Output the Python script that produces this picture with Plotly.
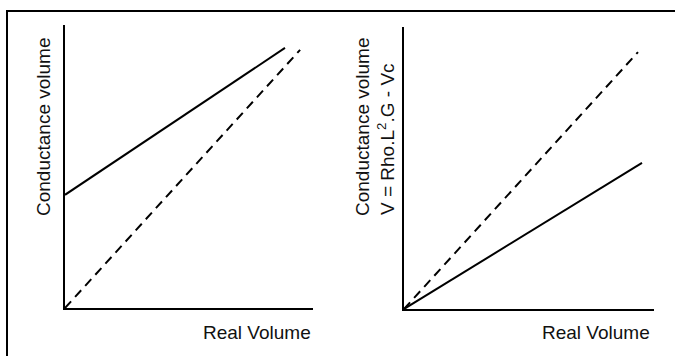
import plotly.graph_objects as go

W, H = 675, 356

# Left panel: conductance volume vs real volume
left_x = [0, 8.87]
left_solid = [4.0, 9.19]
left_dash_x = [0, 9.48]
left_dash = [0, 9.12]

# Right panel: corrected conductance volume
right_dash_x = [0, 9.36]
right_dash = [0, 9.11]
right_solid_x = [0, 9.52]
right_solid = [0, 5.18]

axis_range = [0, 10]
x_title = "Real Volume"
y_title_left = "Conductance volume"
y_title_right = ["Conductance volume", "V = Rho.L<sup>2</sup>.G - Vc"]

FONT = "Liberation Sans, Arial, sans-serif"

fig = go.Figure()
fig.add_trace(go.Scatter(x=left_x, y=left_solid, mode="lines",
                         line=dict(color="black", width=2), xaxis="x", yaxis="y"))
fig.add_trace(go.Scatter(x=left_dash_x, y=left_dash, mode="lines",
                         line=dict(color="black", width=2, dash="9px,6px"), xaxis="x", yaxis="y"))
fig.add_trace(go.Scatter(x=right_dash_x, y=right_dash, mode="lines",
                         line=dict(color="black", width=2, dash="9px,6px"), xaxis="x2", yaxis="y2"))
fig.add_trace(go.Scatter(x=right_solid_x, y=right_solid, mode="lines",
                         line=dict(color="black", width=2), xaxis="x2", yaxis="y2"))

ax = dict(range=axis_range, showline=True, linecolor="black", linewidth=2,
          showgrid=False, zeroline=False, showticklabels=False, ticks="", fixedrange=True)

def px(v):
    return v / W

def py(v):
    return 1 - v / H

fig.update_layout(
    width=W, height=H,
    margin=dict(l=0, r=0, t=0, b=0),
    paper_bgcolor="white", plot_bgcolor="white",
    showlegend=False,
    xaxis=dict(ax, domain=[px(65), px(313)], anchor="y"),
    yaxis=dict(ax, domain=[py(308), py(25)], anchor="x"),
    xaxis2=dict(ax, domain=[px(404), px(654)], anchor="y2"),
    yaxis2=dict(ax, domain=[py(309), py(27)], anchor="x2"),
    font=dict(family=FONT, color="black", size=19),
)

# outer frame (left and top edges)
fig.add_shape(type="line", xref="paper", yref="paper",
              x0=px(7), y0=0, x1=px(7), y1=py(11), line=dict(color="black", width=2))
fig.add_shape(type="line", xref="paper", yref="paper",
              x0=px(6), y0=py(11), x1=1, y1=py(11), line=dict(color="black", width=2))

ann = dict(xref="paper", yref="paper", showarrow=False, xanchor="center", yanchor="middle",
           font=dict(family=FONT, size=19, color="#111"))
fig.add_annotation(ann, text=x_title, x=px(257), y=py(332))
fig.add_annotation(ann, text=x_title, x=px(596), y=py(332))
fig.add_annotation(ann, text=y_title_left, x=px(44), y=py(126), textangle=-90)
fig.add_annotation(ann, text=y_title_right[0], x=px(363), y=py(127), textangle=-90)
fig.add_annotation(ann, text=y_title_right[1], x=px(386), y=py(139), textangle=-90)

fig.write_html(
    "out.html",
    config={"displayModeBar": False},
    post_script="document.body.style.margin='0';document.body.style.overflow='hidden';",
)
